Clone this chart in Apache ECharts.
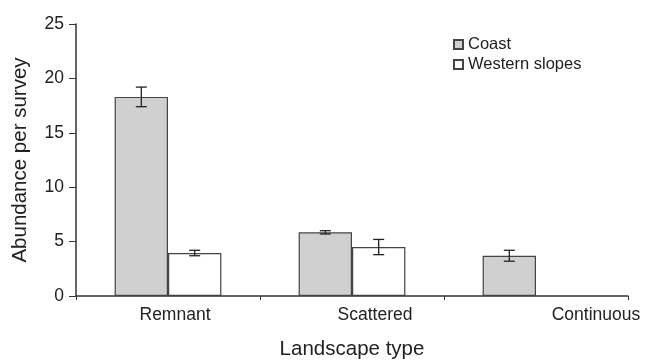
<!DOCTYPE html>
<html>
<head>
<meta charset="utf-8">
<script src="https://cdn.jsdelivr.net/npm/echarts@6/dist/echarts.min.js"></script>
<style>html,body{margin:0;padding:0;background:#fff}#c{width:645px;height:363px}</style>
</head>
<body>
<div id="c"></div>
<script>
const categories = ['Remnant', 'Scattered', 'Continuous'];
const coastMean = [18.3, 5.85, 3.7];
const coastErr = [0.9, 0.15, 0.5];
const westMean = [3.95, 4.5, null];
const westErr = [0.25, 0.7, null];
const yTicks = [0, 5, 10, 15, 20, 25];

const FONT = '"Liberation Sans", Arial, Helvetica, sans-serif';
const TXT = '#222';
const labelShift = { Remnant: 14, Scattered: 46, Continuous: 120 };

function errData(mean, err) {
  return categories.map((c, i) => mean[i] == null ? [i, null, null] : [i, mean[i], err[i]]);
}
function errRender(sign) {
  return function (params, api) {
    const m = api.value(1), e = api.value(2);
    if (m == null || isNaN(m)) return null;
    const band = api.size([1, 0])[0];
    const off = sign * band * 0.145;
    const top = api.coord([api.value(0), m + e]);
    const bot = api.coord([api.value(0), m - e]);
    const x = top[0] + off;
    const cap = 5.5;
    const st = { stroke: '#222', lineWidth: 1.3 };
    return {
      type: 'group',
      children: [
        { type: 'line', shape: { x1: x, y1: top[1], x2: x, y2: bot[1] }, style: st },
        { type: 'line', shape: { x1: x - cap, y1: top[1], x2: x + cap, y2: top[1] }, style: st },
        { type: 'line', shape: { x1: x - cap, y1: bot[1], x2: x + cap, y2: bot[1] }, style: st }
      ]
    };
  };
}

const chart = echarts.init(document.getElementById('c'), null, { renderer: 'canvas' });
chart.setOption({
  animation: false,
  textStyle: { fontFamily: FONT },
  grid: { left: 76, right: 17, top: 24, bottom: 67, containLabel: false, outerBoundsMode: 'none' },
  legend: {
    orient: 'vertical',
    left: 448,
    top: 31,
    itemWidth: 9,
    itemHeight: 9,
    itemGap: 3,
    icon: 'rect',
    textStyle: { fontFamily: FONT, fontSize: 16.5, color: TXT, lineHeight: 17 },
    data: ['Coast', 'Western slopes']
  },
  xAxis: {
    type: 'category',
    data: categories,
    name: 'Landscape type',
    nameLocation: 'middle',
    nameGap: 43,
    nameTextStyle: { fontFamily: FONT, fontSize: 20.5, color: TXT },
    axisLine: { lineStyle: { color: '#333', width: 1.5 } },
    axisTick: { show: true, alignWithLabel: false, length: 4, lineStyle: { color: '#333' } },
    axisLabel: {
      interval: 0,
      hideOverlap: false,
      margin: 10,
      fontSize: 17.5,
      color: TXT,
      formatter: v => '{' + v + '|' + v + '}',
      rich: {
        Remnant: { fontFamily: FONT, fontSize: 17.5, color: TXT, padding: [0, 0, 0, labelShift.Remnant] },
        Scattered: { fontFamily: FONT, fontSize: 17.5, color: TXT, padding: [0, 0, 0, labelShift.Scattered] },
        Continuous: { fontFamily: FONT, fontSize: 17.5, color: TXT, padding: [0, 0, 0, labelShift.Continuous] }
      }
    }
  },
  yAxis: {
    type: 'value',
    min: yTicks[0],
    max: yTicks[yTicks.length - 1],
    interval: 5,
    name: 'Abundance per survey',
    nameLocation: 'middle',
    nameGap: 45,
    nameTextStyle: { fontFamily: FONT, fontSize: 20.5, color: TXT },
    axisLine: { show: true, lineStyle: { color: '#333', width: 1.5 } },
    axisTick: { show: true, length: 7, lineStyle: { color: '#333' } },
    axisLabel: { margin: 12, fontSize: 17.5, color: TXT, fontFamily: FONT },
    splitLine: { show: false }
  },
  series: [
    {
      name: 'Coast',
      type: 'bar',
      data: coastMean,
      barGap: '0%',
      barCategoryGap: '42%',
      itemStyle: { color: '#d0d0d0', borderColor: '#444', borderWidth: 1.2 }
    },
    {
      name: 'Western slopes',
      type: 'bar',
      data: westMean,
      itemStyle: { color: '#ffffff', borderColor: '#444', borderWidth: 1.2 }
    },
    {
      type: 'custom',
      renderItem: errRender(-1),
      data: errData(coastMean, coastErr),
      encode: { x: 0, y: [1] },
      z: 10,
      silent: true
    },
    {
      type: 'custom',
      renderItem: errRender(1),
      data: errData(westMean, westErr),
      encode: { x: 0, y: [1] },
      z: 10,
      silent: true
    }
  ]
});
</script>
</body>
</html>
